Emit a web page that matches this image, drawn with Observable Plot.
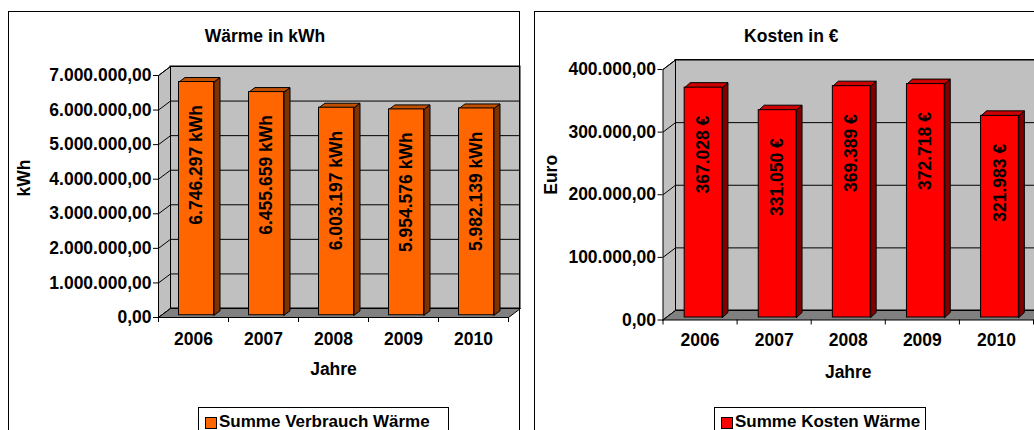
<!DOCTYPE html>
<html><head><meta charset="utf-8">
<script src="https://cdn.jsdelivr.net/npm/d3@7"></script>
<script src="https://cdn.jsdelivr.net/npm/@observablehq/plot@0.6"></script>
<style>
html,body{margin:0;padding:0;background:#fff;}
#page{position:relative;width:1034px;height:430px;overflow:hidden;font-family:"Liberation Sans",Arial,sans-serif;}
.box{position:absolute;border:1px solid #000;box-sizing:border-box;z-index:5;}
.plot{position:absolute;top:0;}
.legend{position:absolute;border:1px solid #000;border-bottom:none;box-sizing:border-box;background:#fff;font-weight:bold;font-size:17px;white-space:nowrap;z-index:6;height:23px;}
.legend .sw{position:absolute;left:6px;top:8.5px;width:12px;height:12px;border:1px solid #000;box-sizing:border-box;}
.legend .tx{position:absolute;left:20px;top:4.6px;line-height:17px;}
</style></head>
<body><div id="page"></div>
<script>
// ---- data ----
const years = ["2006", "2007", "2008", "2009", "2010"];
const waermeKWh = [6746297, 6455659, 6003197, 5954576, 5982139];
const kostenEuro = [367028, 331050, 369389, 372718, 321983];
const waermeTicks = [0, 1000000, 2000000, 3000000, 4000000, 5000000, 6000000, 7000000];
const kostenTicks = [0, 100000, 200000, 300000, 400000];
const titles = ["Wärme in kWh", "Kosten in €"];
const yTitles = ["kWh", "Euro"];
const xTitle = "Jahre";
const legendLabels = ["Summe Verbrauch Wärme", "Summe Kosten Wärme"];

const loc = d3.formatLocale({decimal: ",", thousands: ".", grouping: [3], currency: ["", " €"]});
const fmtAxis = loc.format(",.2f");
const fmtInt = loc.format(",d");

function chart(o) {
  const n = o.cats.length;
  const pxX = (o.width - o.mL - o.mR) / n;
  const pxY = (o.height - o.mT - o.mB) / o.yMax;
  const ux = px => px / pxX, uy = py => -py / pxY;
  const [wdx, wdy] = o.wall; const wx = ux(wdx), wy = uy(wdy);
  const [bdx, bdy] = o.depth; const bx = ux(bdx), by = uy(bdy);
  const pts = (arr, z) => arr.map(([x, y]) => ({x, y, z}));
  const leftWall = pts([[0, 0], [0, o.yMax], [wx, o.yMax + wy], [wx, wy], [0, 0]], 0);
  const floor = pts([[0, 0], [n, 0], [n + wx, wy], [wx, wy], [0, 0]], 0);
  const bars = o.values.map((v, i) => ({i, v, x1: i + 0.5 - o.bw / 2, x2: i + 0.5 + o.bw / 2, label: o.labelFmt(v)}));
  const sides = bars.flatMap(b => pts([[b.x2, 0], [b.x2, b.v], [b.x2 + bx, b.v + by], [b.x2 + bx, by], [b.x2, 0]], b.i));
  const tops = bars.flatMap(b => pts([[b.x1, b.v], [b.x2, b.v], [b.x2 + bx, b.v + by], [b.x1 + bx, b.v + by], [b.x1, b.v]], b.i));
  const bounds = d3.range(n + 1);
  const centers = d3.range(n).map(i => i + 0.5);
  const [odx, ody] = o.off;
  return Plot.plot({
    width: o.width, height: o.height,
    marginLeft: o.mL, marginRight: o.mR, marginTop: o.mT, marginBottom: o.mB,
    x: {type: "linear", domain: [0, n]},
    y: {type: "linear", domain: [0, o.yMax]},
    style: {background: "transparent", overflow: "visible", fontFamily: "'Liberation Sans', Arial, sans-serif", fontSize: "17.5px", fontWeight: "bold", color: "black"},
    marks: [
      Plot.rect([{}], {x1: () => 0, x2: () => n, y1: () => 0, y2: () => o.yMax, dx: wdx, dy: wdy, fill: "#c0c0c0", stroke: "black"}),
      Plot.ruleY(o.ticks, {y: d => d, x1: () => 0, x2: () => n, dx: wdx, dy: wdy, stroke: "black"}),
      Plot.line(leftWall, {x: "x", y: "y", z: "z", fill: "#c0c0c0", stroke: "black", strokeWidth: 1}),
      Plot.link(o.ticks, {x1: () => 0, y1: d => d, x2: () => wx, y2: d => d + wy, stroke: "black"}),
      Plot.line(floor, {x: "x", y: "y", z: "z", fill: "#808080", stroke: "black", strokeWidth: 1}),
      Plot.axisY({ticks: o.ticks, tickSize: 5, tickPadding: 2, tickFormat: fmtAxis, label: null}),
      Plot.axisX({ticks: bounds, tickSize: 5, tickFormat: () => "", label: null}),
      Plot.axisX({ticks: centers, tickSize: 0, tickPadding: o.xPad, tickFormat: d => o.cats[Math.floor(d)], label: null}),
      Plot.line(sides, {x: "x", y: "y", z: "z", fill: o.side, stroke: "black", strokeWidth: 1, dx: odx, dy: ody}),
      Plot.line(tops, {x: "x", y: "y", z: "z", fill: o.top, stroke: "black", strokeWidth: 1, dx: odx, dy: ody}),
      Plot.rect(bars, {x1: "x1", x2: "x2", y1: () => 0, y2: "v", fill: o.front, stroke: "black", dx: odx, dy: ody}),
      Plot.text(bars, {x: d => d.i + 0.5, y: "v", text: "label", rotate: -90, textAnchor: "end", dx: odx, dy: o.labelDy, fontWeight: "bold"}),
      Plot.text([o.yTitle], {text: d => d, frameAnchor: "left", rotate: -90, dx: o.yTitleDx}),
      Plot.text([o.xTitle], {text: d => d, frameAnchor: "bottom", lineAnchor: "top", dy: o.xTitleDy}),
      Plot.text([o.title], {text: d => d, frameAnchor: "top", lineAnchor: "top", dx: o.titleDx, dy: o.titleDy})
    ]
  });
}

const page = document.getElementById("page");

const left = chart({
  cats: years, values: waermeKWh, ticks: waermeTicks, yMax: 7000000,
  width: 521, height: 430, mL: 158, mR: 13, mT: 75, mB: 113,
  wall: [12, -9], off: [3, -2.25], depth: [6, -4.5], bw: 0.5,
  front: "#ff6600", top: "#c05000", side: "#803300",
  labelFmt: v => fmtInt(v) + " kWh", labelDy: 20.75,
  xPad: 15, yTitle: yTitles[0], yTitleDx: -133.7, xTitle, xTitleDy: 44.7,
  title: titles[0], titleDx: -68.5, titleDy: -45.7
});
left.classList.add("plot"); left.style.left = "0px";
page.appendChild(left);

const right = chart({
  cats: years, values: kostenEuro, ticks: kostenTicks, yMax: 400000,
  width: 514, height: 430, mL: 142.5, mR: 1, mT: 69, mB: 110.5,
  wall: [12.5, -9.5], off: [3.5, -2.5], depth: [5.5, -5], bw: 0.51,
  front: "#ff0000", top: "#cc0000", side: "#800000",
  labelFmt: v => fmtInt(v) + " €", labelDy: 25.5,
  xPad: 14, yTitle: yTitles[1], yTitleDx: -111.9, xTitle, xTitleDy: 45.5,
  title: titles[1], titleDx: -57, titleDy: -39.7
});
right.classList.add("plot"); right.style.left = "520px";
page.appendChild(right);

function box(l, t, w, h) {
  const d = document.createElement("div");
  d.className = "box";
  Object.assign(d.style, {left: l + "px", top: t + "px", width: w + "px", height: h + "px"});
  page.appendChild(d);
}
box(8, 11, 512, 440);
box(534, 11, 600, 440);

function legend(l, w, label, color) {
  const d = document.createElement("div");
  d.className = "legend";
  Object.assign(d.style, {left: l + "px", top: "407px", width: w + "px"});
  const sw = document.createElement("span"); sw.className = "sw"; sw.style.background = color;
  const tx = document.createElement("span"); tx.className = "tx"; tx.textContent = label;
  d.appendChild(sw); d.appendChild(tx);
  page.appendChild(d);
}
legend(198, 251, legendLabels[0], "#ff6600");
legend(714, 212, legendLabels[1], "#ff0000");
</script>
</body></html>
